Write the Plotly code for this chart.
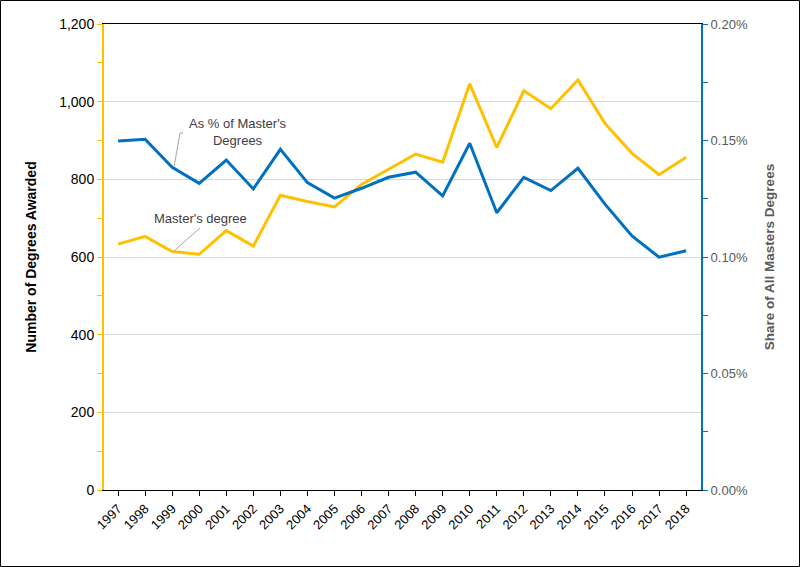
import plotly.graph_objects as go

years = [str(y) for y in range(1997, 2019)]
masters_degrees = [633, 653, 614, 607, 668, 628, 759, 743, 729, 787, 826, 865, 844, 1046, 882, 1028, 982, 1056, 944, 867, 812, 857]
share_pct = [0.001498, 0.001505, 0.001385, 0.001316, 0.001416, 0.001292, 0.001462, 0.001319, 0.001253, 0.001295, 0.001342, 0.001364, 0.001262, 0.001488, 0.001190, 0.001342, 0.001285, 0.001381, 0.001227, 0.001090, 0.000999, 0.001027]

YELLOW = "#FFC000"
BLUE = "#0070C0"
FONT = "Liberation Sans, Arial, sans-serif"

W, H = 800, 567
L, R, T, B = 104, 99, 24, 77
pw, ph = W - L - R, H - T - B

fig = go.Figure()
fig.add_trace(go.Scatter(x=years, y=masters_degrees, mode="lines", name="Master's degree",
                         line=dict(color=YELLOW, width=3), yaxis="y"))
fig.add_trace(go.Scatter(x=years, y=share_pct, mode="lines", name="As % of Master's Degrees",
                         line=dict(color=BLUE, width=3), yaxis="y2"))

fig.update_layout(
    width=W, height=H,
    margin=dict(l=L, r=R, t=T, b=B, pad=0, autoexpand=False),
    paper_bgcolor="white", plot_bgcolor="white",
    showlegend=False,
    font=dict(family=FONT, size=12, color="black"),
    xaxis=dict(
        type="category", range=[-0.52, 21.55], automargin=False,
        showline=True, linecolor="black", linewidth=1, mirror=True,
        ticks="outside", ticklen=5, tickcolor="black",
        tickangle=-45, tickfont=dict(size=13, color="black"),
        showgrid=False, zeroline=False,
    ),
    yaxis=dict(
        range=[0, 1200], dtick=200, tickformat=",d", automargin=False,
        showline=True, linecolor=YELLOW, linewidth=2,
        ticks="outside", ticklen=5, tickcolor=YELLOW,
        minor=dict(dtick=100, ticks="outside", ticklen=5, tickcolor=YELLOW, showgrid=False),
        showgrid=True, gridcolor="#d9d9d9", gridwidth=1, zeroline=False,
        tickfont=dict(size=14, color="black"),
        title=dict(text="<b>Number of Degrees Awarded</b>", font=dict(size=14, color="black"), standoff=19),
    ),
    yaxis2=dict(
        range=[0, 0.002], dtick=0.0005, tickformat=".2%", automargin=False,
        overlaying="y", side="right",
        showline=True, linecolor=BLUE, linewidth=2,
        ticks="outside", ticklen=5, tickcolor=BLUE,
        minor=dict(dtick=0.00025, ticks="outside", ticklen=5, tickcolor=BLUE, showgrid=False),
        showgrid=False, zeroline=False,
        tickfont=dict(size=13, color="#595959"),
        title=dict(text="<b>Share of All Masters Degrees</b>", font=dict(size=13.5, color="#595959"), standoff=18),
    ),
)

def px_x(p):
    return (p - L) / pw

def px_y(p):
    return (H - B - p) / ph

# Leader lines for data labels
fig.add_shape(type="line", xref="paper", yref="paper",
              x0=px_x(174), y0=px_y(167), x1=px_x(180), y1=px_y(133),
              line=dict(color="#a6a6a6", width=1))
fig.add_shape(type="line", xref="paper", yref="paper",
              x0=px_x(180), y0=px_y(133), x1=px_x(183), y1=px_y(133),
              line=dict(color="#a6a6a6", width=1))
fig.add_shape(type="line", xref="paper", yref="paper",
              x0=px_x(174), y0=px_y(251), x1=px_x(200), y1=px_y(228),
              line=dict(color="#a6a6a6", width=1))

fig.add_annotation(xref="paper", yref="paper", x=px_x(238), y=px_y(132),
                   xanchor="center", yanchor="middle",
                   text="As % of Master's<br>Degrees", showarrow=False,
                   font=dict(family=FONT, size=13, color="#404040"), align="center")
fig.add_annotation(xref="paper", yref="paper", x=px_x(200), y=px_y(218),
                   xanchor="center", yanchor="middle",
                   text="Master's degree", showarrow=False,
                   font=dict(family=FONT, size=13, color="#404040"), align="center")

# Outer chart border
fig.add_shape(type="rect", xref="paper", yref="paper",
              x0=px_x(0.5), y0=px_y(H - 0.5), x1=px_x(W - 0.5), y1=px_y(0.5),
              line=dict(color="black", width=1), layer="below")

fig.write_html("out.html", config={"displayModeBar": False},
               post_script="document.body.style.margin='0px';")
